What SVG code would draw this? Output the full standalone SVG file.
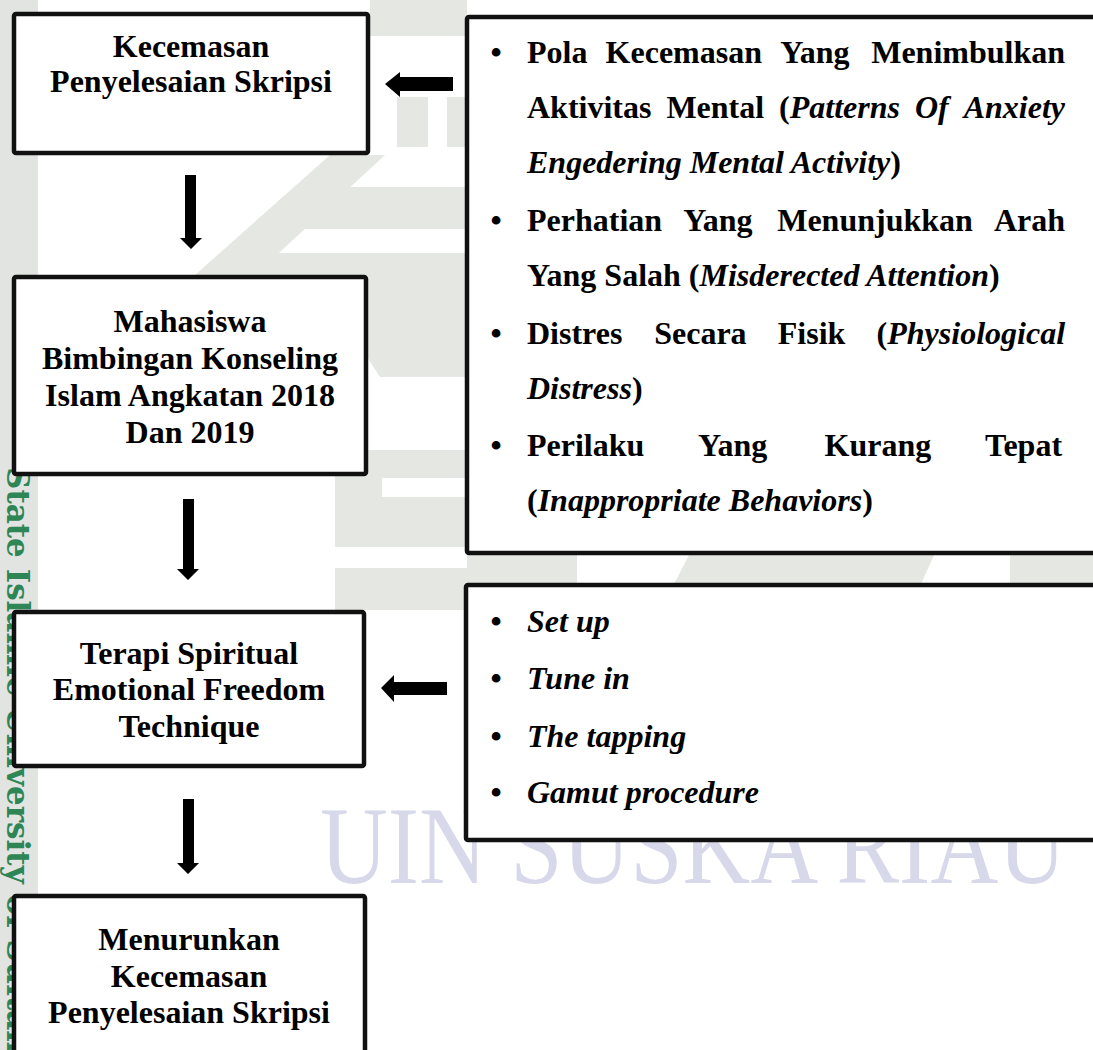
<svg xmlns="http://www.w3.org/2000/svg" width="1093" height="1050" viewBox="0 0 1093 1050">
<style>
.box{fill:#fff;stroke:#111;stroke-width:4.5;stroke-linejoin:round}
.t{font-family:"Liberation Serif","Times New Roman",serif;font-weight:bold;font-size:32px;fill:#000}
.c{text-anchor:middle}
.i{font-style:italic}
.wm{fill:#e5e7e3}
.arrow{fill:#000}
.side{font-family:"DejaVu Serif","Liberation Serif",serif;font-weight:bold;font-size:31px;fill:#2e8555}
</style>
<g id="watermark">
<rect x="0" y="0" width="1093" height="1050" fill="#fff"/>
<rect x="0" y="0" width="38" height="1050" fill="#e2e4e2"/>
<text class="side" transform="translate(7,467) rotate(90)">State Islamic University of Sultan Syarif Kasim Riau</text>
<rect class="wm" x="370" y="0" width="97" height="36"/>
<rect class="wm" x="397" y="97" width="31" height="50"/>
<rect class="wm" x="447" y="97" width="20" height="50"/>
<polygon class="wm" points="330,155 385,155 255,275 195,275"/>
<rect class="wm" x="305" y="187" width="162" height="42"/>
<polygon class="wm" points="255,253 467,253 467,377 380,377 330,300 255,275"/>
<rect class="wm" x="335" y="450" width="132" height="97"/>
<rect x="382" y="478" width="85" height="19" fill="#fff"/>
<rect class="wm" x="335" y="568" width="132" height="42"/>
<rect class="wm" x="467" y="553" width="110" height="33"/>
<polygon class="wm" points="690,553 935,553 920,586 673,586"/>
<rect class="wm" x="1010" y="553" width="83" height="33"/>
<text x="320" y="883" font-family="Liberation Serif,serif" font-size="110" fill="#d8d8eb" textLength="746" lengthAdjust="spacingAndGlyphs">UIN SUSKA RIAU</text>
</g>
<g id="connectors">
<path class="arrow" d="M185,175 H196 V238 H202 L191,249 L180,238 H185 Z"/>
<path class="arrow" d="M183,499 H194 V569 H199 L188,580 L177,569 H183 Z"/>
<path class="arrow" d="M183,799 H194 V863 H199 L188,874 L177,863 H183 Z"/>
<path class="arrow" d="M385,84 L400,72 V77 H453 V91 H400 V97 Z"/>
<path class="arrow" d="M381,688 L394,675 V682 H447 V695 H394 V702 Z"/>
</g>
<g id="node-kecemasan">
<rect class="box" x="14" y="14" width="354" height="139" rx="2"/>
<text class="t c" x="191" y="57">Kecemasan</text>
<text class="t c" x="191" y="92">Penyelesaian Skripsi</text>
</g>
<g id="node-mahasiswa">
<rect class="box" x="14" y="277" width="352" height="197" rx="2"/>
<text class="t c" x="190" y="332">Mahasiswa</text>
<text class="t c" x="190" y="369">Bimbingan Konseling</text>
<text class="t c" x="190" y="406">Islam Angkatan 2018</text>
<text class="t c" x="190" y="443">Dan 2019</text>
</g>
<g id="node-terapi">
<rect class="box" x="14" y="612" width="350" height="154" rx="2"/>
<text class="t c" x="189" y="664">Terapi Spiritual</text>
<text class="t c" x="189" y="700">Emotional Freedom</text>
<text class="t c" x="189" y="737">Technique</text>
</g>
<g id="node-menurunkan">
<rect class="box" x="14" y="896" width="351" height="200" rx="2"/>
<text class="t c" x="189" y="950">Menurunkan</text>
<text class="t c" x="189" y="987">Kecemasan</text>
<text class="t c" x="189" y="1023">Penyelesaian Skripsi</text>
</g>
<g id="node-pola-kecemasan">
<rect class="box" x="467" y="17" width="700" height="536" rx="2"/>
<text class="t c" x="496" y="63">•</text>
<text class="t" y="63"><tspan x="527">Pola</tspan><tspan x="605.6">Kecemasan</tspan><tspan x="780.2">Yang</tspan><tspan x="871.2">Menimbulkan</tspan></text>
<text class="t" y="118"><tspan x="527">Aktivitas</tspan><tspan x="666.4">Mental</tspan><tspan x="779.1">(<tspan class="i">Patterns</tspan></tspan><tspan class="i" x="915">Of</tspan><tspan class="i" x="963.7">Anxiety</tspan></text>
<text class="t" x="527" y="173"><tspan class="i">Engedering Mental Activity</tspan>)</text>
<text class="t c" x="496" y="231">•</text>
<text class="t" y="231"><tspan x="527">Perhatian</tspan><tspan x="683.2">Yang</tspan><tspan x="777.2">Menunjukkan</tspan><tspan x="993.9">Arah</tspan></text>
<text class="t" x="527" y="286">Yang Salah (<tspan class="i">Misderected Attention</tspan>)</text>
<text class="t c" x="496" y="344">•</text>
<text class="t" y="344"><tspan x="527">Distres</tspan><tspan x="654.2">Secara</tspan><tspan x="777.8">Fisik</tspan><tspan x="876.6">(<tspan class="i">Physiological</tspan></tspan></text>
<text class="t" x="527" y="399"><tspan class="i">Distress</tspan>)</text>
<text class="t c" x="496" y="456">•</text>
<text class="t" y="456"><tspan x="527">Perilaku</tspan><tspan x="698">Yang</tspan><tspan x="824.6">Kurang</tspan><tspan x="985">Tepat</tspan></text>
<text class="t" x="527" y="511">(<tspan class="i">Inappropriate Behaviors</tspan>)</text>
</g>
<g id="node-tahapan-seft">
<rect class="box" x="466" y="585" width="700" height="255" rx="2"/>
<text class="t c" x="496" y="632">•</text>
<text class="t i" x="527" y="632">Set up</text>
<text class="t c" x="496" y="689">•</text>
<text class="t i" x="527" y="689">Tune in</text>
<text class="t c" x="496" y="747">•</text>
<text class="t i" x="527" y="747">The tapping</text>
<text class="t c" x="496" y="803">•</text>
<text class="t i" x="527" y="803">Gamut procedure</text>
</g>
</svg>
